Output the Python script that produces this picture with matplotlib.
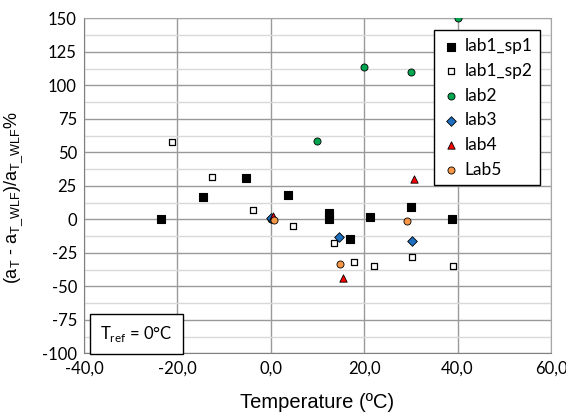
import numpy as np
import matplotlib
matplotlib.use("Agg")
import matplotlib.pyplot as plt
from matplotlib.ticker import MultipleLocator, FuncFormatter

# values
sp1_x = [-23.5, -14.4, -5.4, 3.6, 12.5, 12.5, 16.9, 21.3, 30.0, 38.9]
sp1_y = [0.0, 16.4, 30.6, 18.1, 4.5, 0.0, -14.5, 1.5, 9.0, 0.0]

sp2_x = [-21.2, -12.6, -3.9, 4.8, 13.6, 17.8, 22.1, 30.3, 39.0]
sp2_y = [57.9, 31.8, 6.7, -5.2, -17.9, -31.9, -35.1, -28.4, -34.8]

lab2_x = [0.0, 10.0, 20.0, 30.0, 40.0]
lab2_y = [0.0, 58.2, 113.9, 110.1, 150.0]

lab3_x = [0.1, 14.6, 30.3]
lab3_y = [1.2, -13.2, -16.2]

lab4_x = [0.5, 15.5, 30.6]
lab4_y = [2.5, -43.6, 29.8]

lab5_x = [0.6, 14.9, 29.1]
lab5_y = [-0.5, -33.4, -1.0]

tick_font = "Lato"
label_font = "Liberation Sans"

fig = plt.figure(figsize=(5.66, 4.13), dpi=100)
ax = fig.add_axes([0.1482, 0.1446, 0.8253, 0.8111])

ax.set_xlim(-40, 60)
ax.set_ylim(-100, 150)
ax.xaxis.set_major_locator(MultipleLocator(20))
ax.yaxis.set_major_locator(MultipleLocator(25))
ax.yaxis.set_minor_locator(MultipleLocator(12.5))
ax.xaxis.set_major_formatter(FuncFormatter(lambda v, p: f"{v:.1f}".replace(".", ",")))
ax.yaxis.set_major_formatter(FuncFormatter(lambda v, p: f"{v:.0f}"))

ax.grid(True, which="major", color="#9a9a9a", lw=1.0)
ax.grid(True, which="minor", axis="y", color="#d9d9d9", lw=1.0)
ax.set_axisbelow(True)
for s in ax.spines.values():
    s.set_color("#a6a6a6")
ax.spines["left"].set_color("#808080")
ax.spines["bottom"].set_color("#808080")
ax.tick_params(which="both", length=0, labelsize=12, pad=5)
for lab in ax.get_xticklabels() + ax.get_yticklabels():
    lab.set_fontfamily(tick_font)

ax.scatter(sp1_x, sp1_y, marker="s", s=26, c="black", edgecolors="black",
           linewidths=0.8, label="lab1_sp1", zorder=3)
ax.scatter(sp2_x, sp2_y, marker="s", s=24, c="white", edgecolors="black",
           linewidths=0.9, label="lab1_sp2", zorder=3)
ax.scatter(lab2_x, lab2_y, marker="o", s=26, c="#00a550", edgecolors="black",
           linewidths=0.6, label="lab2", zorder=3)
ax.scatter(lab3_x, lab3_y, marker="D", s=24, c="#1f6fbf", edgecolors="black",
           linewidths=0.6, label="lab3", zorder=3)
ax.scatter(lab4_x, lab4_y, marker="^", s=28, c="#ff0000", edgecolors="black",
           linewidths=0.6, label="lab4", zorder=3)
ax.scatter(lab5_x, lab5_y, marker="o", s=26, c="#f79646", edgecolors="black",
           linewidths=0.6, label="Lab5", zorder=4)

leg = ax.legend(loc="upper right", bbox_to_anchor=(0.9773, 0.9640),
                prop={"family": tick_font, "size": 12.5}, frameon=True,
                fancybox=False, framealpha=1, edgecolor="black",
                borderpad=0.45, labelspacing=0.5, handletextpad=0.3,
                handlelength=1.0, borderaxespad=0)
leg.get_frame().set_linewidth(1.0)

ax.text(0.035, 0.058, r"T$_\mathregular{ref}$ = 0°C", transform=ax.transAxes,
        fontsize=12, family=tick_font, va="center", ha="left",
        bbox=dict(boxstyle="square,pad=0.6", fc="white", ec="black", lw=1.0),
        zorder=5)

ax.set_xlabel("Temperature (ºC)", fontsize=14.5, family=label_font, labelpad=12)
ax.set_ylabel(r"(a$_\mathregular{T}$ - a$_\mathregular{T\_WLF}$)/a$_\mathregular{T\_WLF}$%",
              fontsize=13, family=label_font)
ax.yaxis.set_label_coords(-0.125, 0.465)

fig.savefig("out.png", dpi=100)
